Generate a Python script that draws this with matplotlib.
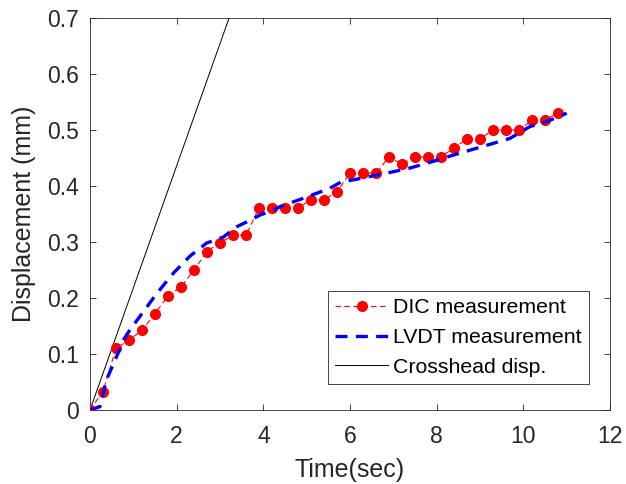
import matplotlib
matplotlib.use("Agg")
import matplotlib.pyplot as plt

plt.rcParams['font.family'] = ['Liberation Sans', 'DejaVu Sans']

# DIC measurement (sampled every 0.3 s)
dic_time = [0.0, 0.3, 0.6, 0.9, 1.2, 1.5, 1.8, 2.1, 2.4, 2.7, 3.0, 3.3, 3.6,
            3.9, 4.2, 4.5, 4.8, 5.1, 5.4, 5.7, 6.0, 6.3, 6.6, 6.9, 7.2, 7.5,
            7.8, 8.1, 8.4, 8.7, 9.0, 9.3, 9.6, 9.9, 10.2, 10.5, 10.8]
dic_disp = [0.000, 0.033, 0.110, 0.125, 0.142, 0.172, 0.204, 0.220, 0.250,
            0.283, 0.299, 0.312, 0.312, 0.361, 0.361, 0.360, 0.361, 0.375,
            0.375, 0.390, 0.423, 0.423, 0.423, 0.452, 0.439, 0.452, 0.452,
            0.452, 0.468, 0.484, 0.484, 0.500, 0.500, 0.500, 0.517, 0.517,
            0.531]

# LVDT measurement
lvdt_time = [0.0, 0.23, 0.38, 0.58, 0.77, 0.92, 1.15, 1.54, 1.92, 2.31, 2.69,
             3.08, 3.38, 3.62, 3.92, 4.23, 4.38, 4.92, 5.54, 5.81, 6.08, 6.46,
             6.85, 7.38, 7.92, 8.46, 9.08, 9.69, 10.15, 10.54, 11.0]
lvdt_disp = [0.000, 0.006, 0.054, 0.089, 0.125, 0.143, 0.167, 0.208, 0.244,
             0.275, 0.298, 0.309, 0.327, 0.336, 0.348, 0.357, 0.363, 0.378,
             0.396, 0.408, 0.411, 0.417, 0.423, 0.432, 0.444, 0.457, 0.471,
             0.485, 0.506, 0.515, 0.530]

# Crosshead displacement
cross_time = [0.0, 3.21]
cross_disp = [0.0, 0.70]

fig = plt.figure(figsize=(6.26, 4.84), dpi=100)
ax = fig.add_axes([90 / 626, 1 - 410 / 484, 520 / 626, 392 / 484])

ax.plot(dic_time, dic_disp, '--', color='red', linewidth=0.8,
        dashes=(5, 3), marker='o', markersize=7, markerfacecolor='red',
        markeredgecolor='red', label='DIC measurement', zorder=3)
ax.plot(lvdt_time, lvdt_disp, '--', color='blue', linewidth=2.4,
        dashes=(3.6, 2.5), label='LVDT measurement', zorder=4)
ax.plot(cross_time, cross_disp, '-', color='black', linewidth=0.7,
        label='Crosshead disp.', zorder=2)

ax.set_xlim(0, 12)
ax.set_ylim(0, 0.7)
ax.set_xticks([0, 2, 4, 6, 8, 10, 12])
ax.set_yticks([0, 0.1, 0.2, 0.3, 0.4, 0.5, 0.6, 0.7])
ax.set_yticklabels(['0', '0.1', '0.2', '0.3', '0.4', '0.5', '0.6', '0.7'])

gray = '#262626'
for s in ax.spines.values():
    s.set_color(gray)
    s.set_linewidth(0.6)
ax.tick_params(direction='in', top=True, right=True, length=4, width=0.6,
               colors=gray, labelsize=16.5)
ax.tick_params(axis='x', pad=11)
ax.tick_params(axis='y', pad=8)
ax.set_xlabel('Time(sec)', fontsize=18, color=gray)
ax.set_ylabel('Displacement (mm)', fontsize=18, color=gray)
ax.xaxis.set_label_coords(0.5, -0.122)
ax.yaxis.set_label_coords(-0.104, 0.5)

leg = ax.legend(loc='lower right', bbox_to_anchor=(0.96, 0.066),
                borderaxespad=0, fontsize=15.3, fancybox=False, framealpha=1,
                edgecolor=gray, handlelength=2.5, handletextpad=0.22,
                labelspacing=0.5, borderpad=0.35)
leg.get_frame().set_linewidth(0.6)

fig.savefig('out.png', dpi=100)
